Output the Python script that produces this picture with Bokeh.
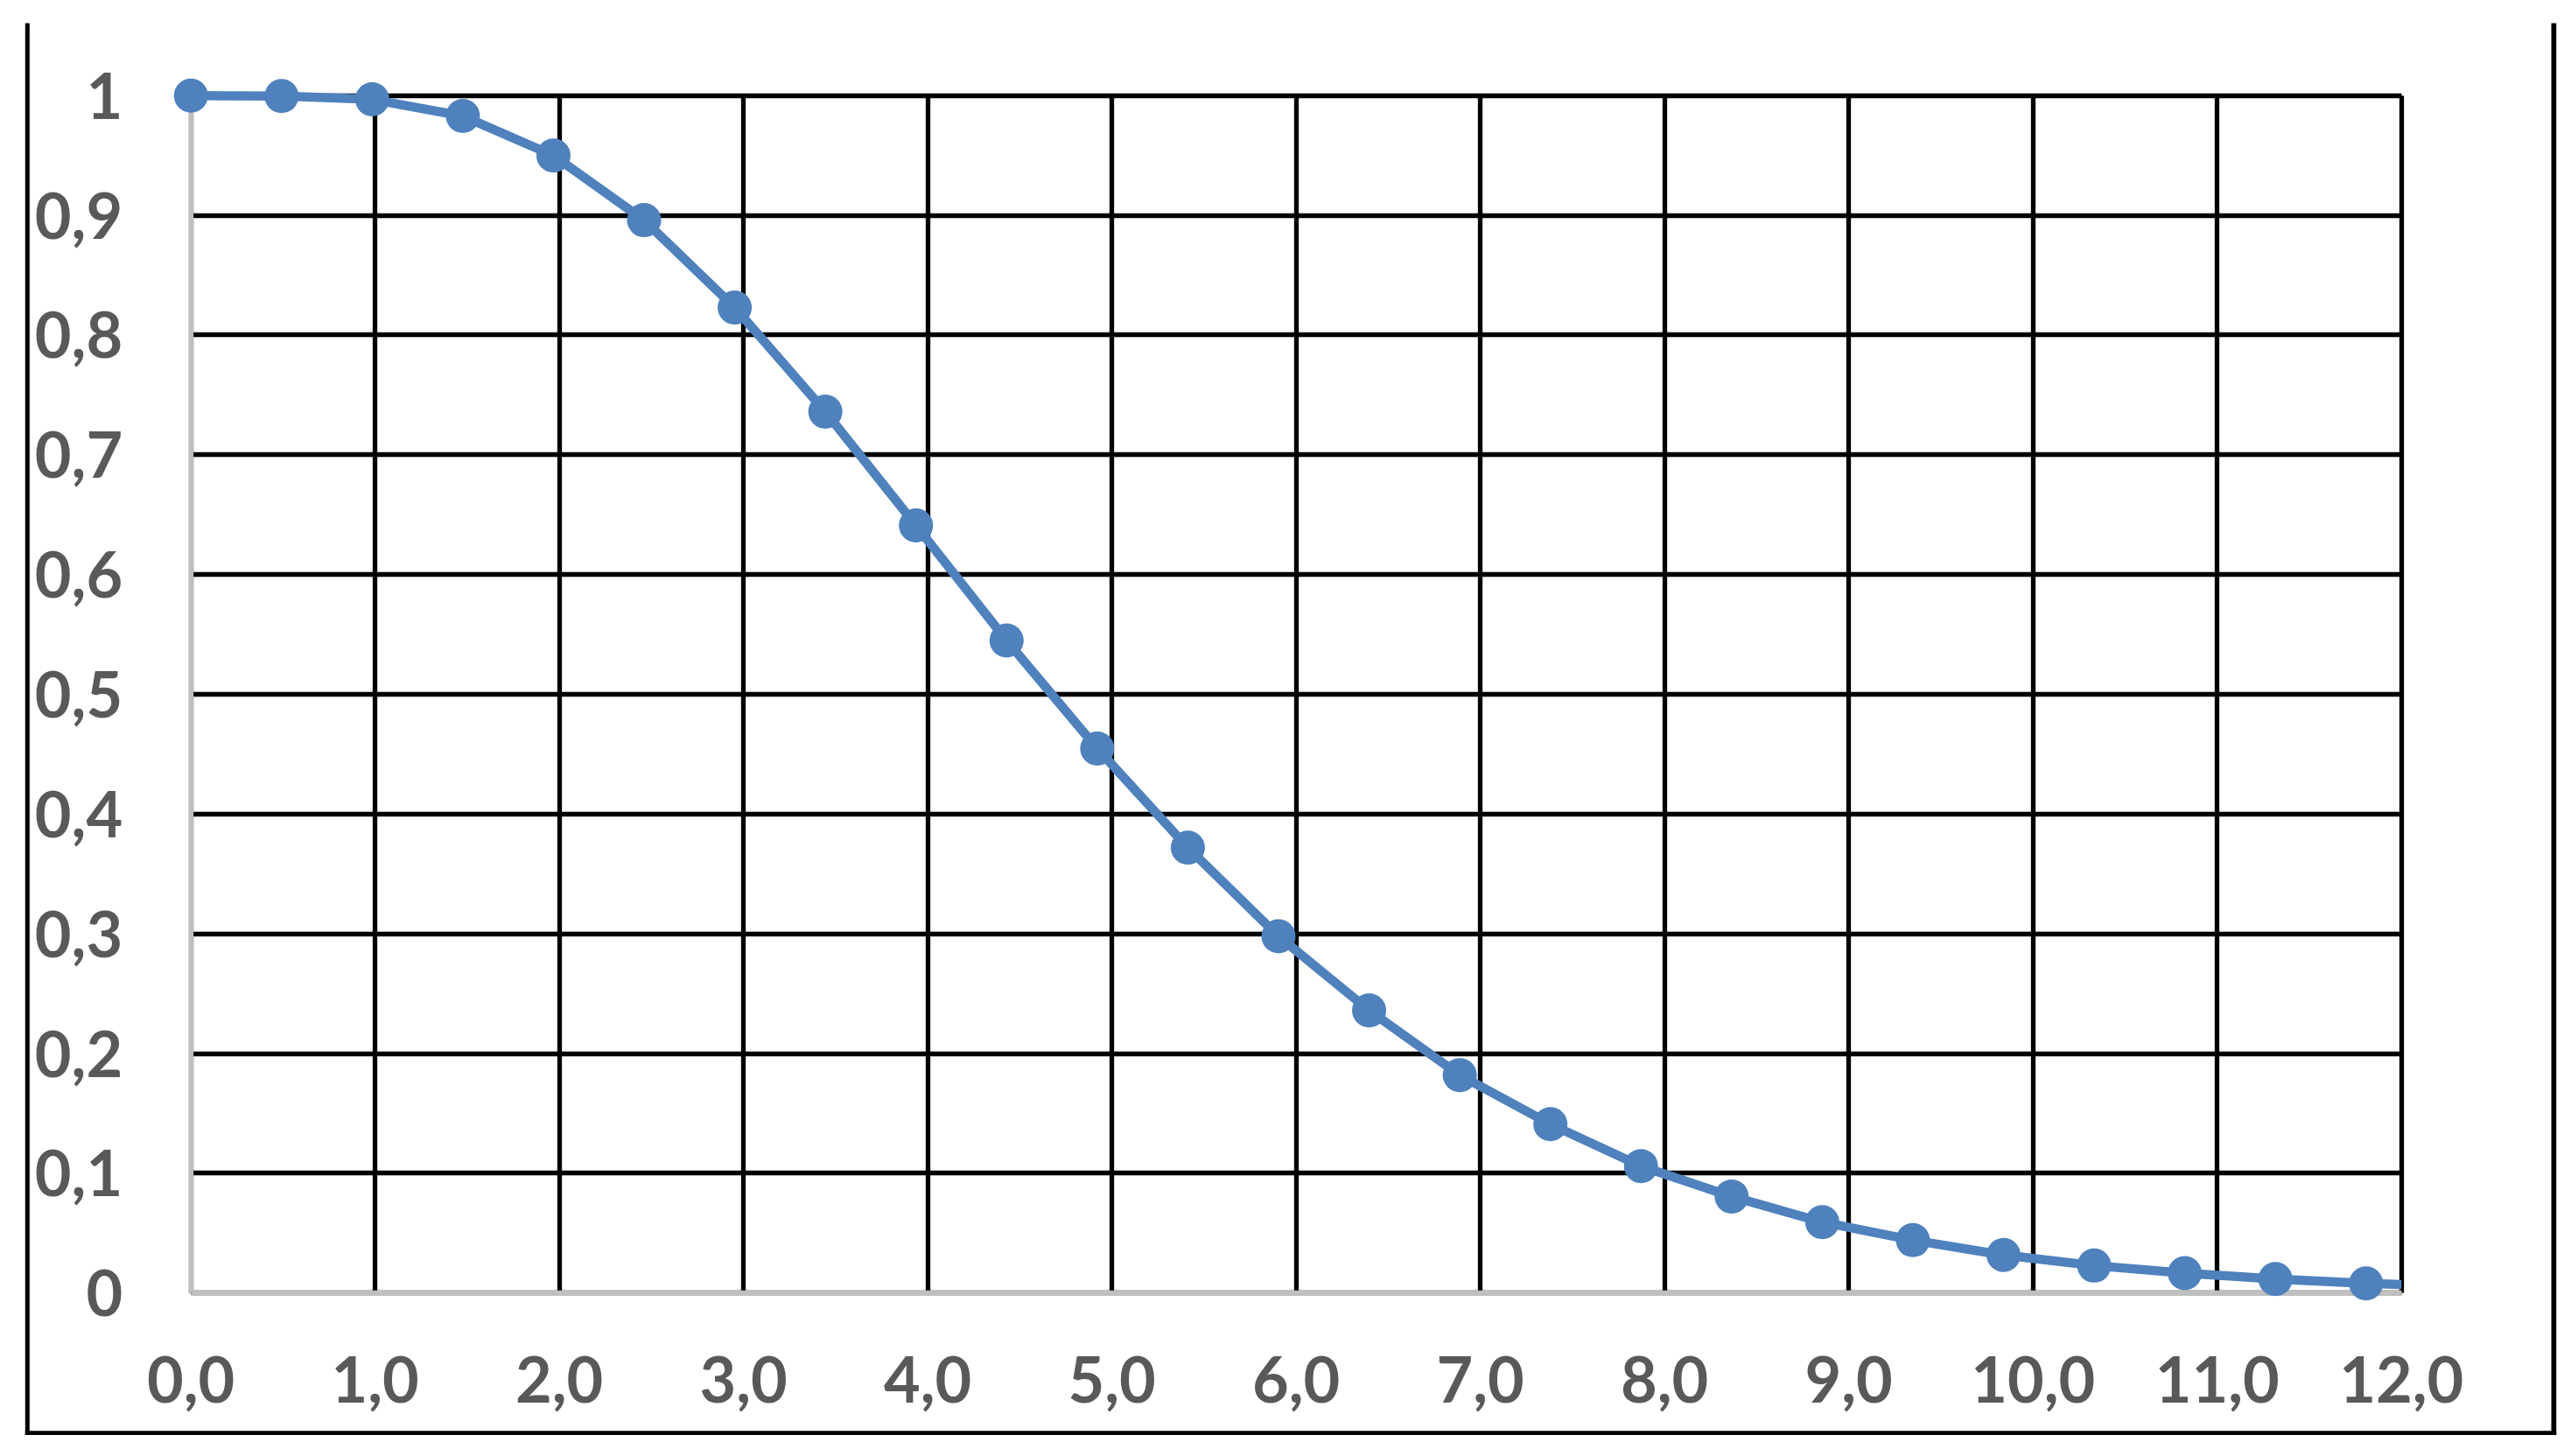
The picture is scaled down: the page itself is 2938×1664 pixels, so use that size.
from bokeh.plotting import figure
from bokeh.models import LinearAxis, FixedTicker, Range1d, BoxAnnotation, Grid
from bokeh.embed import file_html
from bokeh.resources import INLINE

# ---- data ----
x_vals = [0.0, 0.492, 0.984, 1.476, 1.968, 2.46, 2.952, 3.444, 3.936, 4.428,
          4.92, 5.412, 5.904, 6.396, 6.888, 7.38, 7.872, 8.364, 8.856, 9.348,
          9.84, 10.332, 10.824, 11.316, 11.808]
y_vals = [1.000, 0.9996, 0.9969, 0.983, 0.950, 0.896, 0.823, 0.736, 0.641, 0.545,
          0.4547, 0.3719, 0.298, 0.236, 0.182, 0.141, 0.106, 0.0806, 0.0592, 0.0441,
          0.0317, 0.0229, 0.0166, 0.0117, 0.0080]
# the curve continues past the last marker and is cut at the right edge of the plot area
line_end_x = 12.0
line_end_y = 0.0071

x_ticks = [0, 1, 2, 3, 4, 5, 6, 7, 8, 9, 10, 11, 12]
x_tick_labels = ["0,0", "1,0", "2,0", "3,0", "4,0", "5,0", "6,0", "7,0", "8,0",
                 "9,0", "10,0", "11,0", "12,0"]
y_ticks = [0, 0.1, 0.2, 0.3, 0.4, 0.5, 0.6, 0.7, 0.8, 0.9, 1]
y_tick_labels = ["0", "0,1", "0,2", "0,3", "0,4", "0,5", "0,6", "0,7", "0,8", "0,9", "1"]
x_min, x_max = 0, 12
y_min, y_max = 0, 1

# ---- styling / layout ----
LINE_BLUE = "#4F81BD"
LABEL_GREY = "#595959"
AXIS_GREY = "#BFBFBF"
FONT = "Lato"
W, H = 2930, 1656
# pixel position of the plot area corners on the canvas
PX_X0, PX_X12 = 217.7, 2743.7
PX_Y0, PX_Y1 = 1477.2, 108.8
sx = (PX_X12 - PX_X0) / (x_max - x_min)
sy = (PX_Y0 - PX_Y1) / (y_max - y_min)
x_range = Range1d(x_min - PX_X0 / sx, x_min + (W - PX_X0) / sx)
y_range = Range1d(y_min - (H - PX_Y0) / sy, y_min + PX_Y0 / sy)

p = figure(width=W, height=H, x_range=x_range, y_range=y_range,
           min_border=0, min_border_left=0, min_border_right=0,
           min_border_top=0, min_border_bottom=0,
           x_axis_location=None, y_axis_location=None,
           output_backend="svg", toolbar_location=None)
p.outline_line_color = None
p.background_fill_color = "white"
p.border_fill_color = "white"
for g in list(p.grid):
    g.visible = False

# outer chart frame (left, bottom and right sides), canvas pixels
for l, r, t, b in [(28.3, 33.3, 26, 1639.5),
                   (28.3, 2920.7, 1634.8, 1639.5),
                   (2915.0, 2920.7, 26, 1639.5)]:
    p.add_layout(BoxAnnotation(left=l, right=r, top=t, bottom=b,
                               left_units="canvas", right_units="canvas",
                               top_units="canvas", bottom_units="canvas",
                               fill_color="black", fill_alpha=1.0,
                               line_color=None, level="image"))

# black grid lines, limited to the plot area
xgrid = Grid(dimension=0, ticker=FixedTicker(ticks=x_ticks), cross_bounds=(y_min, y_max),
             grid_line_color="black", grid_line_width=5.3, level="image")
ygrid = Grid(dimension=1, ticker=FixedTicker(ticks=y_ticks), cross_bounds=(x_min, x_max),
             grid_line_color="black", grid_line_width=5.3, level="image")
p.add_layout(xgrid)
p.add_layout(ygrid)

axis_style = dict(axis_line_color=AXIS_GREY, axis_line_width=5.3,
                  major_tick_line_color=None, minor_tick_line_color=None,
                  major_tick_out=0, major_tick_in=0, minor_tick_out=0, minor_tick_in=0,
                  major_label_text_font=FONT, major_label_text_font_style="bold",
                  major_label_text_font_size="72px", major_label_text_color=LABEL_GREY,
                  level="underlay")

xaxis = LinearAxis(fixed_location=y_min, bounds=(x_min, x_max),
                   ticker=FixedTicker(ticks=x_ticks),
                   major_label_overrides=dict(zip(x_ticks, x_tick_labels)),
                   major_label_standoff=72, **axis_style)
yaxis = LinearAxis(fixed_location=x_min, bounds=(y_min, y_max),
                   ticker=FixedTicker(ticks=y_ticks),
                   major_label_overrides=dict(zip(y_ticks, y_tick_labels)),
                   major_label_standoff=78, **axis_style)
p.add_layout(xaxis, "below")
p.add_layout(yaxis, "left")

p.line(x_vals + [line_end_x], y_vals + [line_end_y], line_color=LINE_BLUE,
       line_width=10.5, line_join="round")
p.scatter(x_vals, y_vals, size=39, fill_color=LINE_BLUE, line_color=None)

open("out.html", "w").write(file_html(p, INLINE))
